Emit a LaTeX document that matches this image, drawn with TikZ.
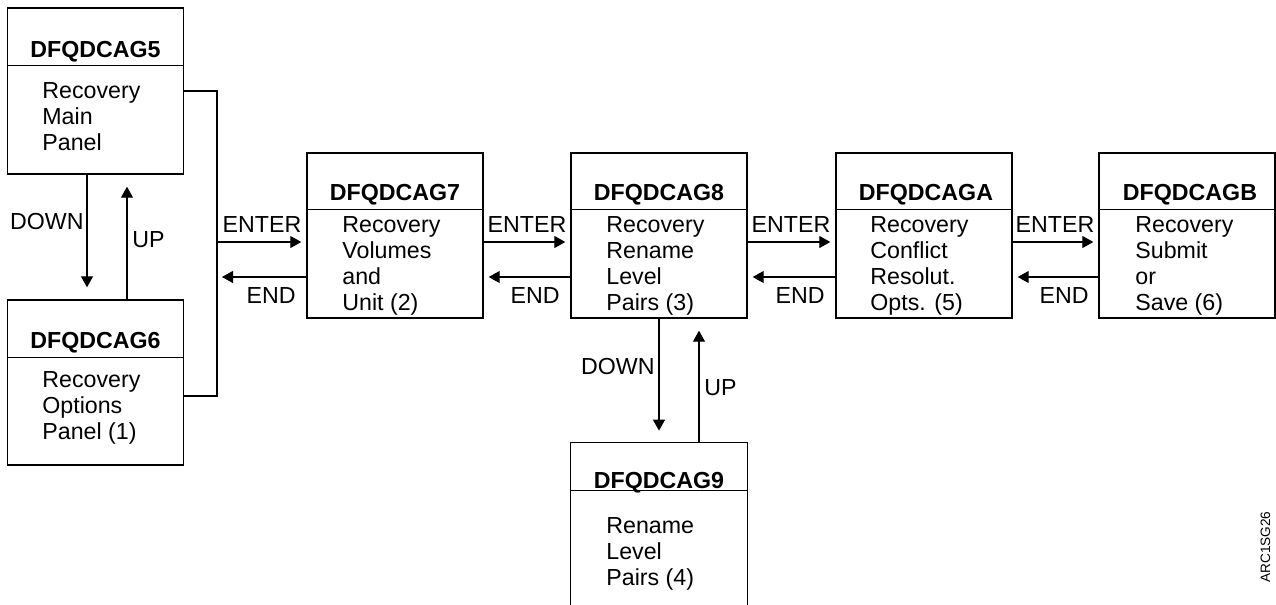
\documentclass[tikz,border=0pt]{standalone}
\usepackage{fontspec}
\setmainfont{Liberation Sans}
\usetikzlibrary{arrows.meta}
\tikzstyle{panel}=[rectangle, draw=black, line width=0.7pt, minimum width=88pt, minimum height=82.5pt, inner sep=0pt]
\tikzstyle{cut_panel}=[rectangle, minimum width=88pt, minimum height=81pt, inner sep=0pt]
\tikzstyle{title}=[anchor=base, inner sep=0pt, font=\fontsize{11.6}{13}\selectfont\bfseries]
% multi-line: base = last line
\tikzstyle{body}=[anchor=base west, inner sep=0pt, align=left, font=\fontsize{11.6}{13}\selectfont]
\tikzstyle{keylabel}=[inner sep=0pt, font=\fontsize{11.6}{13}\selectfont]
\tikzstyle{flow}=[line width=0.55pt, -{Triangle[length=5.5pt,width=6pt]}, shorten >=2.5pt]
\tikzstyle{vflow}=[line width=0.55pt, -{Triangle[length=5.5pt,width=6pt]}, shorten >=6pt]

\begin{document}
\begin{tikzpicture}[x=0.5pt, y=-0.5pt]
    \useasboundingbox (0,0) rectangle (1276,605);

    \node (g5) at (95.5, 91)   [panel, minimum height=83pt] {};
    \node (g6) at (95.5, 382.5) [panel] {};
    \node (g7) at (395,  235.5) [panel] {};
    \node (g8) at (659,  235.5) [panel] {};
    \node (ga) at (924,  235.5) [panel] {};
    \node (gb) at (1187, 235.5) [panel] {};
    \node (g9) at (659,  524)   [cut_panel] {};

    % open bottom
    \draw (g9.south west) -- (g9.north west) -- (g9.north east) -- (g9.south east) [line width=0.7pt];

    \draw ([yshift=-29pt]g5.north west) -- ([yshift=-29pt]g5.north east) [line width=0.7pt];
    \draw ([yshift=-29pt]g6.north west) -- ([yshift=-29pt]g6.north east) [line width=0.7pt];
    \draw ([yshift=-28.5pt]g7.north west) -- ([yshift=-28.5pt]g7.north east) [line width=0.7pt];
    \draw ([yshift=-28.5pt]g8.north west) -- ([yshift=-28.5pt]g8.north east) [line width=0.7pt];
    \draw ([yshift=-28.5pt]ga.north west) -- ([yshift=-28.5pt]ga.north east) [line width=0.7pt];
    \draw ([yshift=-28.5pt]gb.north west) -- ([yshift=-28.5pt]gb.north east) [line width=0.7pt];
    \draw ([yshift=-24pt]g9.north west) -- ([yshift=-24pt]g9.north east) [line width=0.7pt];

    \node (t5) at (95.5, 57)  [title] {DFQDCAG5};
    \node (t6) at (95.5, 348) [title] {DFQDCAG6};
    \node (t7) at (395,  200) [title] {DFQDCAG7};
    \node (t8) at (659,  200) [title] {DFQDCAG8};
    \node (ta) at (926,  200) [title] {DFQDCAGA};
    \node (tb) at (1190, 200) [title] {DFQDCAGB};
    \node (t9) at (659,  488) [title] {DFQDCAG9};

    \node (b5) at (42,   150) [body] {Recovery\\Main\\Panel};
    \node (b6) at (42,   439) [body] {Recovery\\Options\\Panel (1)};
    \node (b7) at (342,  310) [body] {Recovery\\Volumes\\and\\Unit (2)};
    \node (b8) at (606,  310) [body] {Recovery\\Rename\\Level\\Pairs (3)};
    \node (ba) at (870,  310) [body] {Recovery\\Conflict\\Resolut.\\Opts. (5)};
    \node (bb) at (1135, 310) [body] {Recovery\\Submit\\or\\Save (6)};
    \node (b9) at (606,  585) [body] {Rename\\Level\\Pairs (4)};

    \coordinate (j1) at (217, 242);
    \coordinate (j2) at (217, 277);

    \draw (g5.east) -| (j1) |- ([yshift=-6.75pt]g6.east) [line width=0.55pt];

    \draw ([xshift=-4.25pt]g5.south) -- ([xshift=-4.25pt]g6.north) [vflow];
    \draw ([xshift=15.75pt]g6.north) -- ([xshift=15.75pt]g5.south) [vflow];
    \draw (g8.south) -- (g9.north) [vflow];
    \draw ([xshift=20pt]g9.north) -- ([xshift=20pt]g8.south) [vflow];

    \draw (j1) -- ([yshift=-3.25pt]g7.west) [flow];
    \draw ([yshift=-20.75pt]g7.west) -- (j2) [flow];
    \draw ([yshift=-3.25pt]g7.east) -- ([yshift=-3.25pt]g8.west) [flow];
    \draw ([yshift=-20.75pt]g8.west) -- ([yshift=-20.75pt]g7.east) [flow];
    \draw ([yshift=-3.25pt]g8.east) -- ([yshift=-3.25pt]ga.west) [flow];
    \draw ([yshift=-20.75pt]ga.west) -- ([yshift=-20.75pt]g8.east) [flow];
    \draw ([yshift=-3.25pt]ga.east) -- ([yshift=-3.25pt]gb.west) [flow];
    \draw ([yshift=-20.75pt]gb.west) -- ([yshift=-20.75pt]ga.east) [flow];

    \node (down1) at (84, 222)  [keylabel, anchor=east] {DOWN};
    \node (up1)   at (132, 240) [keylabel, anchor=west] {UP};
    \node (down2) at (655, 367) [keylabel, anchor=east] {DOWN};
    \node (up2)   at (704, 388) [keylabel, anchor=west] {UP};

    \node (e1) at (262,  232) [keylabel, anchor=base] {ENTER};
    \node (e2) at (527,  232) [keylabel, anchor=base] {ENTER};
    \node (e3) at (791,  232) [keylabel, anchor=base] {ENTER};
    \node (e4) at (1055, 232) [keylabel, anchor=base] {ENTER};
    \node (n1) at (296,  303) [keylabel, anchor=base east] {END};
    \node (n2) at (560,  303) [keylabel, anchor=base east] {END};
    \node (n3) at (825,  303) [keylabel, anchor=base east] {END};
    \node (n4) at (1089, 303) [keylabel, anchor=base east] {END};

    \node (tag) at (1265.5, 547) [inner sep=0pt, rotate=90, font=\fontsize{6.8}{8}\selectfont] {ARC1SG26};
\end{tikzpicture}
\end{document}
